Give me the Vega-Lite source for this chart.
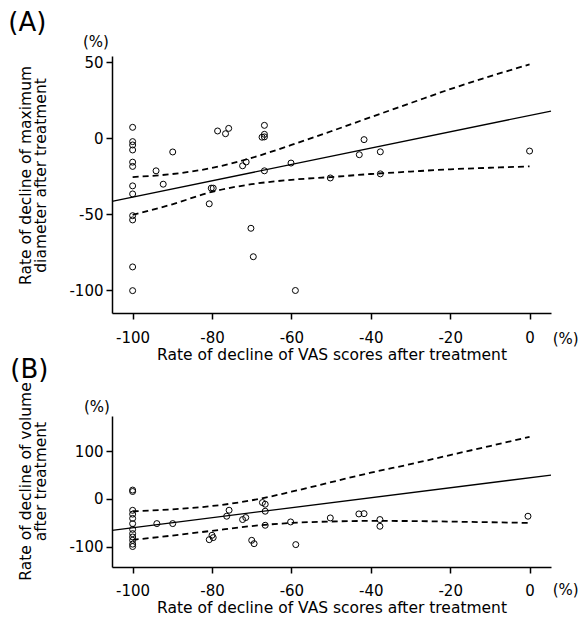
{
  "$schema": "https://vega.github.io/schema/vega-lite/v6.json",
  "background": "white",
  "padding": {"left": 8, "top": 10, "right": 5, "bottom": 5},
  "spacing": 103,
  "bounds": "flush",
  "config": {
    "view": {"stroke": null},
    "font": "DejaVu Sans",
    "text": {"font": "DejaVu Sans", "color": "black"},
    "axis": {
      "grid": false,
      "domainColor": "black",
      "tickColor": "black",
      "labelColor": "black",
      "titleColor": "black",
      "labelFont": "DejaVu Sans",
      "titleFont": "DejaVu Sans",
      "labelFontSize": 15,
      "titleFontSize": 15.5,
      "titleFontWeight": "normal",
      "domainWidth": 1.5,
      "tickWidth": 1.5,
      "tickSize": 6
    }
  },
  "datasets": {
    "ptsA": [
      {"vas": -100, "val": 7.1}, {"vas": -100, "val": -2.3}, {"vas": -100, "val": -4.5}, {"vas": -100, "val": -7.8},
      {"vas": -100, "val": -15.8}, {"vas": -100, "val": -18.6}, {"vas": -100, "val": -31.4}, {"vas": -100, "val": -36.7},
      {"vas": -100, "val": -51}, {"vas": -100, "val": -53.8}, {"vas": -100, "val": -84.7}, {"vas": -100, "val": -100.3},
      {"vas": -94.1, "val": -21.5}, {"vas": -92.3, "val": -30.3}, {"vas": -89.9, "val": -9.1},
      {"vas": -80.7, "val": -43.2}, {"vas": -80.2, "val": -32.9}, {"vas": -79.7, "val": -32.9},
      {"vas": -78.6, "val": 4.7}, {"vas": -76.6, "val": 2.9}, {"vas": -75.8, "val": 6.4},
      {"vas": -72.3, "val": -18.2}, {"vas": -71.4, "val": -15.7}, {"vas": -70.2, "val": -59.3}, {"vas": -69.6, "val": -78},
      {"vas": -67.4, "val": 0.6}, {"vas": -66.8, "val": 0.8}, {"vas": -66.8, "val": 2.5}, {"vas": -66.8, "val": 8.4},
      {"vas": -66.8, "val": -21.5}, {"vas": -60.1, "val": -16.4}, {"vas": -59.0, "val": -100.2},
      {"vas": -50.2, "val": -26.2}, {"vas": -42.9, "val": -10.9}, {"vas": -41.7, "val": -1},
      {"vas": -37.6, "val": -9}, {"vas": -37.6, "val": -23.5}, {"vas": 0, "val": -8.5}
    ],
    "fitA": [{"vas": -105.2, "val": -41.6}, {"vas": 5.4, "val": 17.8}],
    "ciA": [
      {"vas": -100, "val": -25.6, "bound": "upper"}, {"vas": -90, "val": -23.6, "bound": "upper"},
      {"vas": -80, "val": -19.6, "bound": "upper"}, {"vas": -70, "val": -13, "bound": "upper"},
      {"vas": -60, "val": -4.5, "bound": "upper"}, {"vas": -50, "val": 4.5, "bound": "upper"},
      {"vas": -40, "val": 13.8, "bound": "upper"}, {"vas": -30, "val": 23, "bound": "upper"},
      {"vas": -20, "val": 32.2, "bound": "upper"}, {"vas": -10, "val": 40.6, "bound": "upper"},
      {"vas": 0, "val": 48.5, "bound": "upper"},
      {"vas": -100, "val": -50.5, "bound": "lower"}, {"vas": -90, "val": -43.5, "bound": "lower"},
      {"vas": -80, "val": -35.3, "bound": "lower"}, {"vas": -70, "val": -30.3, "bound": "lower"},
      {"vas": -60, "val": -27.4, "bound": "lower"}, {"vas": -50, "val": -25.6, "bound": "lower"},
      {"vas": -40, "val": -23.6, "bound": "lower"}, {"vas": -30, "val": -22, "bound": "lower"},
      {"vas": -20, "val": -20.5, "bound": "lower"}, {"vas": -10, "val": -19.5, "bound": "lower"},
      {"vas": 0, "val": -18.6, "bound": "lower"}
    ],
    "ptsB": [
      {"vas": -100, "val": 18.5}, {"vas": -100, "val": 15.5}, {"vas": -100, "val": -24}, {"vas": -100, "val": -32},
      {"vas": -100, "val": -41}, {"vas": -100, "val": -52}, {"vas": -100, "val": -64}, {"vas": -100, "val": -73},
      {"vas": -100, "val": -80}, {"vas": -100, "val": -87}, {"vas": -100, "val": -95}, {"vas": -100, "val": -100},
      {"vas": -93.9, "val": -51.9}, {"vas": -89.9, "val": -51.9}, {"vas": -80.7, "val": -85.6},
      {"vas": -80.0, "val": -76.4}, {"vas": -79.7, "val": -81.3}, {"vas": -76.3, "val": -36.4},
      {"vas": -75.7, "val": -23.8}, {"vas": -72.3, "val": -43.4}, {"vas": -71.5, "val": -39.2},
      {"vas": -70.0, "val": -87}, {"vas": -69.4, "val": -94}, {"vas": -67.3, "val": -7.7},
      {"vas": -66.6, "val": -11.2}, {"vas": -66.6, "val": -25.9}, {"vas": -66.6, "val": -55.4},
      {"vas": -60.2, "val": -48.4}, {"vas": -58.9, "val": -96}, {"vas": -50.2, "val": -40},
      {"vas": -43.0, "val": -31.6}, {"vas": -41.7, "val": -31}, {"vas": -37.7, "val": -43.4},
      {"vas": -37.7, "val": -57.5}, {"vas": -0.4, "val": -36.4}
    ],
    "fitB": [{"vas": -105.2, "val": -66}, {"vas": 5.4, "val": 50}],
    "ciB": [
      {"vas": -100, "val": -26, "bound": "upper"}, {"vas": -90, "val": -22, "bound": "upper"},
      {"vas": -80, "val": -15, "bound": "upper"}, {"vas": -70, "val": -3, "bound": "upper"},
      {"vas": -60, "val": 15, "bound": "upper"}, {"vas": -50, "val": 35, "bound": "upper"},
      {"vas": -40, "val": 55, "bound": "upper"}, {"vas": -30, "val": 73, "bound": "upper"},
      {"vas": -20, "val": 92, "bound": "upper"}, {"vas": -10, "val": 111, "bound": "upper"},
      {"vas": 0, "val": 130, "bound": "upper"},
      {"vas": -100, "val": -86, "bound": "lower"}, {"vas": -90, "val": -77, "bound": "lower"},
      {"vas": -80, "val": -67, "bound": "lower"}, {"vas": -70, "val": -57, "bound": "lower"},
      {"vas": -60, "val": -50.5, "bound": "lower"}, {"vas": -50, "val": -47.5, "bound": "lower"},
      {"vas": -40, "val": -46.3, "bound": "lower"}, {"vas": -30, "val": -46.5, "bound": "lower"},
      {"vas": -20, "val": -47.7, "bound": "lower"}, {"vas": -10, "val": -49, "bound": "lower"},
      {"vas": 0, "val": -50.5, "bound": "lower"}
    ],
    "labelsA": [{"label": "(A)"}],
    "labelsB": [{"label": "(B)"}],
    "pct": [{"label": "(%)"}]
  },
  "vconcat": [
    {
      "width": 439,
      "height": 257,
      "layer": [
        {"data": {"name": "ptsA"},
          "mark": {"type": "point", "shape": "circle", "size": 36, "filled": false, "stroke": "black", "strokeWidth": 1, "opacity": 1},
          "encoding": {
            "x": {"field": "vas", "type": "quantitative",
              "scale": {"domain": [-105.2, 5.4], "nice": false, "zero": false},
              "axis": {"values": [-100, -80, -60, -40, -20, 0], "labelExpr": "datum.value + ''", "labelPadding": 11,
                "title": "Rate of decline of VAS scores after treatment", "titlePadding": 2}},
            "y": {"field": "val", "type": "quantitative",
              "scale": {"domain": [-115, 54], "nice": false, "zero": false},
              "axis": {"values": [-100, -50, 0, 50], "labelExpr": "datum.value + ''", "labelPadding": 3,
                "title": ["Rate of decline of maximum", "diameter after treatment"],
                "titleAngle": 270, "titleAlign": "center", "titleBaseline": "bottom",
                "titleX": -79, "titleY": 119, "titleLineHeight": 15}}
          }},
        {"data": {"name": "ciA"},
          "mark": {"type": "line", "color": "black", "strokeWidth": 1.8, "strokeDash": [6, 4], "interpolate": "monotone"},
          "encoding": {"x": {"field": "vas", "type": "quantitative"}, "y": {"field": "val", "type": "quantitative"}, "detail": {"field": "bound"}}},
        {"data": {"name": "fitA"},
          "mark": {"type": "line", "color": "black", "strokeWidth": 1.3},
          "encoding": {"x": {"field": "vas", "type": "quantitative"}, "y": {"field": "val", "type": "quantitative"}}},
        {"data": {"name": "labelsA"},
          "mark": {"type": "text", "fontSize": 26, "align": "left", "baseline": "top", "dx": -103.7, "dy": -46, "color": "black"},
          "encoding": {"text": {"field": "label"}, "x": {"datum": -105.2, "type": "quantitative"}, "y": {"datum": 54, "type": "quantitative"}}},
        {"data": {"name": "pct"},
          "mark": {"type": "text", "fontSize": 15, "align": "center", "baseline": "middle", "dx": -16, "dy": -14, "color": "black"},
          "encoding": {"text": {"field": "label"}, "x": {"datum": -105.2, "type": "quantitative"}, "y": {"datum": 54, "type": "quantitative"}}},
        {"data": {"name": "pct"},
          "mark": {"type": "text", "fontSize": 15, "align": "center", "baseline": "middle", "dy": 26, "color": "black"},
          "encoding": {"text": {"field": "label"}, "x": {"datum": 9.1, "type": "quantitative"}, "y": {"datum": -115, "type": "quantitative"}}}
      ]
    },
    {
      "width": 439,
      "height": 151,
      "layer": [
        {"data": {"name": "ptsB"},
          "mark": {"type": "point", "shape": "circle", "size": 36, "filled": false, "stroke": "black", "strokeWidth": 1, "opacity": 1},
          "encoding": {
            "x": {"field": "vas", "type": "quantitative",
              "scale": {"domain": [-105.2, 5.4], "nice": false, "zero": false},
              "axis": {"values": [-100, -80, -60, -40, -20, 0], "labelExpr": "datum.value + ''", "labelPadding": 10,
                "title": "Rate of decline of VAS scores after treatment", "titlePadding": 2}},
            "y": {"field": "val", "type": "quantitative",
              "scale": {"domain": [-143, 174], "nice": false, "zero": false},
              "axis": {"values": [-100, 0, 100], "labelExpr": "datum.value + ''", "labelPadding": 3,
                "title": ["Rate of decline of volume", "after treatment"],
                "titleAngle": 270, "titleAlign": "center", "titleBaseline": "bottom",
                "titleX": -79, "titleY": 65, "titleLineHeight": 15}}
          }},
        {"data": {"name": "ciB"},
          "mark": {"type": "line", "color": "black", "strokeWidth": 1.8, "strokeDash": [6, 4], "interpolate": "monotone"},
          "encoding": {"x": {"field": "vas", "type": "quantitative"}, "y": {"field": "val", "type": "quantitative"}, "detail": {"field": "bound"}}},
        {"data": {"name": "fitB"},
          "mark": {"type": "line", "color": "black", "strokeWidth": 1.3},
          "encoding": {"x": {"field": "vas", "type": "quantitative"}, "y": {"field": "val", "type": "quantitative"}}},
        {"data": {"name": "labelsB"},
          "mark": {"type": "text", "fontSize": 26, "align": "left", "baseline": "top", "dx": -101.7, "dy": -59, "color": "black"},
          "encoding": {"text": {"field": "label"}, "x": {"datum": -105.2, "type": "quantitative"}, "y": {"datum": 174, "type": "quantitative"}}},
        {"data": {"name": "pct"},
          "mark": {"type": "text", "fontSize": 15, "align": "center", "baseline": "middle", "dx": -15, "dy": -9, "color": "black"},
          "encoding": {"text": {"field": "label"}, "x": {"datum": -105.2, "type": "quantitative"}, "y": {"datum": 174, "type": "quantitative"}}},
        {"data": {"name": "pct"},
          "mark": {"type": "text", "fontSize": 15, "align": "center", "baseline": "middle", "dy": 23, "color": "black"},
          "encoding": {"text": {"field": "label"}, "x": {"datum": 9.1, "type": "quantitative"}, "y": {"datum": -143, "type": "quantitative"}}}
      ]
    }
  ]
}
